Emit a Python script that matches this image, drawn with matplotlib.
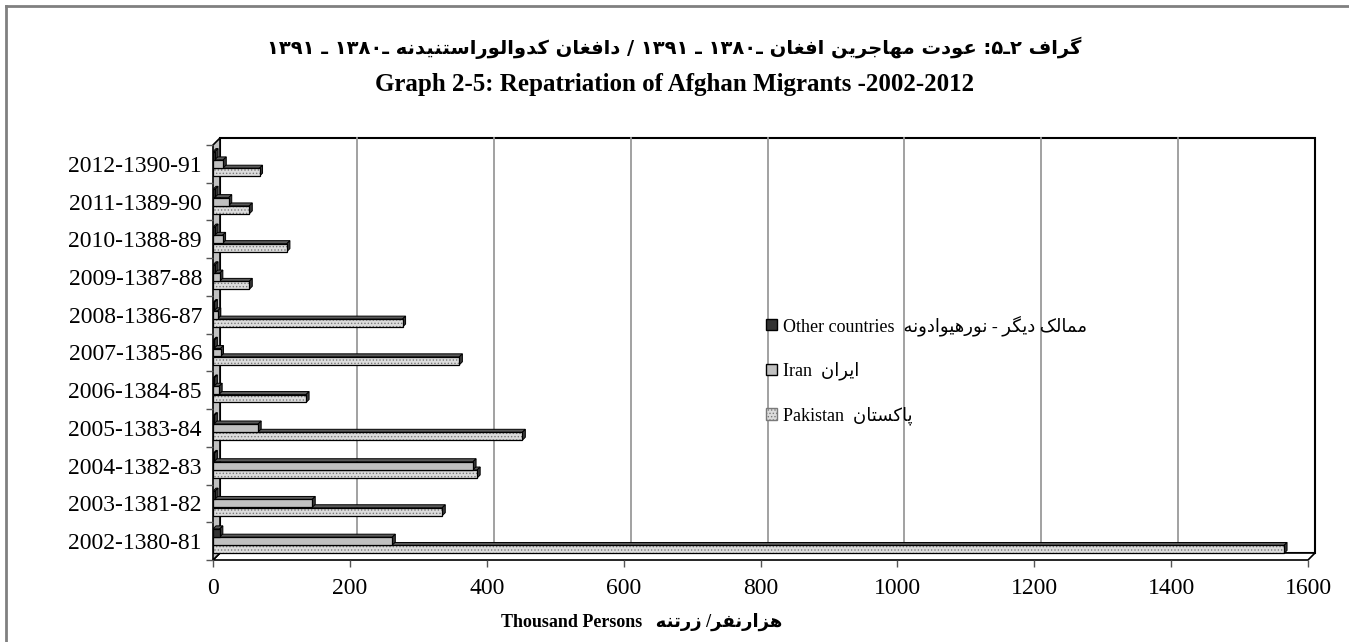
import re
import matplotlib
matplotlib.use("Agg")
import matplotlib.pyplot as plt
from matplotlib.patches import Polygon, Patch
from matplotlib.lines import Line2D
import numpy as np

# data (thousand persons)
years = ["2002-1380-81", "2003-1381-82", "2004-1382-83", "2005-1383-84",
         "2006-1384-85", "2007-1385-86", "2008-1386-87", "2009-1387-88",
         "2010-1388-89", "2011-1389-90", "2012-1390-91"]
pakistan = [1565, 335, 386, 452, 136, 360, 277, 53, 108, 53, 68]
iran = [262, 145, 380, 66, 9, 11, 7, 10, 14, 23, 15]
other = [10, 3, 2, 2, 2, 2, 2, 3, 3, 3, 3]
x_ticks = [0, 200, 400, 600, 800, 1000, 1200, 1400, 1600]

title_fa = "گراف ۲ـ۵: عودت مهاجرین افغان ـ۱۳۸۰ ـ ۱۳۹۱ / دافغان کدوالوراستنیدنه ـ۱۳۸۰ ـ ۱۳۹۱"
title_en = "Graph 2-5: Repatriation of Afghan Migrants -2002-2012"
xlabel_en = "Thousand Persons"
xlabel_fa = "هزارنفر/ زرتنه"
legend_en = ["Other countries", "Iran", "Pakistan"]
legend_fa = ["ممالک دیگر - نورهیوادونه", "ایران", "پاکستان"]

# arabic presentation forms: isolated, final, initial, medial
FORMS = {
    "ا": "\ufe8d\ufe8e", "د": "\ufea9\ufeaa", "ر": "\ufead\ufeae",
    "ز": "\ufeaf\ufeb0", "و": "\ufeed\ufeee",
    "ب": "\ufe8f\ufe90\ufe91\ufe92", "پ": "\ufb56\ufb57\ufb58\ufb59",
    "ت": "\ufe95\ufe96\ufe97\ufe98", "ج": "\ufe9d\ufe9e\ufe9f\ufea0",
    "س": "\ufeb1\ufeb2\ufeb3\ufeb4", "ع": "\ufec9\ufeca\ufecb\ufecc",
    "غ": "\ufecd\ufece\ufecf\ufed0", "ف": "\ufed1\ufed2\ufed3\ufed4",
    "ک": "\ufb8e\ufb8f\ufb90\ufb91", "گ": "\ufb92\ufb93\ufb94\ufb95",
    "ل": "\ufedd\ufede\ufedf\ufee0", "م": "\ufee1\ufee2\ufee3\ufee4",
    "ن": "\ufee5\ufee6\ufee7\ufee8", "ه": "\ufee9\ufeea\ufeeb\ufeec",
    "ی": "\ufbfc\ufbfd\ufbfe\ufbff", "ـ": "\u0640" * 4,
}


def fa(text):
    # join letters, then put them in visual (left to right) order
    out = []
    for k, ch in enumerate(text):
        forms = FORMS.get(ch)
        if forms is None:
            out.append(ch)
            continue
        prev = FORMS.get(text[k - 1], "") if k > 0 else ""
        nxt = text[k + 1] if k + 1 < len(text) else ""
        jp = len(prev) == 4
        jn = len(forms) == 4 and nxt in FORMS
        out.append(forms[{(0, 0): 0, (1, 0): 1, (0, 1): 2, (1, 1): 3}[(int(jp), int(jn))]])
    runs = re.findall(r"[0-9\u06f0-\u06f9]+|.", "".join(out))
    return "".join(reversed(runs))


W, H = 1349, 642
plt.rcParams["hatch.linewidth"] = 0.6
fig = plt.figure(figsize=(W / 100, H / 100), dpi=100)
fig.patch.set_facecolor("white")

# axes = front plane of the 3d plot
L, R, T, B = 213, 1308, 145, 560
ax = fig.add_axes([L / W, (H - B) / H, (R - L) / W, (B - T) / H])
ax.set_xlim(0, 1600)
ax.set_ylim(-0.5, 10.5)
for s in ax.spines.values():
    s.set_visible(False)
ax.patch.set_alpha(0)

sx = 1600 / (R - L)
sy = 11 / (B - T)
DX, DY = 7 * sx, 7 * sy      # wall depth
bdx, bdy = 3 * sx, 3 * sy    # bar depth

# back wall, left wall, floor
ax.add_patch(Polygon([(DX, -0.5 + DY), (1600 + DX, -0.5 + DY), (1600 + DX, 10.5 + DY), (DX, 10.5 + DY)],
                     closed=True, facecolor="white", edgecolor="black", lw=1.5, zorder=0.5, clip_on=False))
for v in x_ticks[1:-1]:
    ax.plot([v + DX, v + DX], [-0.5 + DY, 10.5 + DY], color="#9a9a9a", lw=1.3, zorder=0.8, clip_on=False)
    ax.plot([v, v + DX], [-0.5, -0.5 + DY], color="#9a9a9a", lw=1.0, zorder=0.8, clip_on=False)
ax.add_patch(Polygon([(0, -0.5), (1600, -0.5), (1600 + DX, -0.5 + DY), (DX, -0.5 + DY)],
                     closed=True, facecolor="white", edgecolor="black", lw=1.2, zorder=1, clip_on=False))
ax.add_patch(Polygon([(0, -0.5), (DX, -0.5 + DY), (DX, 10.5 + DY), (0, 10.5)],
                     closed=True, facecolor="#c0c0c0", edgecolor="black", lw=1.2, zorder=1.5, clip_on=False))

y = np.arange(len(years))
h = 0.21
series = [
    (pakistan, -0.22, "#dcdcdc", "....."),
    (iran, 0.0, "#c0c0c0", None),
    (other, 0.22, "#333333", None),
]
for k, (vals, off, col, hatch) in enumerate(series):
    z = 3 + k
    yc = y + off
    for yy, v in zip(yc, vals):
        y0, y1 = yy - h / 2, yy + h / 2
        ax.add_patch(Polygon([(0, y1), (v, y1), (v + bdx, y1 + bdy), (bdx, y1 + bdy)], closed=True,
                             facecolor="#5a5a5a", edgecolor="black", lw=0.7, zorder=z - 0.2))
        ax.add_patch(Polygon([(v, y0), (v + bdx, y0 + bdy), (v + bdx, y1 + bdy), (v, y1)], closed=True,
                             facecolor="#3a3a3a", edgecolor="black", lw=0.7, zorder=z - 0.2))
    if hatch:
        ax.barh(yc, vals, height=h, color=col, edgecolor="#7a7a7a", lw=0, hatch=hatch, zorder=z)
        ax.barh(yc, vals, height=h, fill=False, edgecolor="black", lw=0.9, zorder=z + 0.1)
    else:
        ax.barh(yc, vals, height=h, color=col, edgecolor="black", lw=0.9, zorder=z)

# ticks
ax.set_xticks(x_ticks)
ax.set_xticklabels([str(v) for v in x_ticks], family="Liberation Serif", fontsize=17)
ax.tick_params(axis="x", length=5, width=1, color="#555555", pad=8)
ax.set_yticks(np.arange(-0.5, 11, 1))
ax.set_yticklabels([])
ax.tick_params(axis="y", which="major", length=5, width=1, color="#555555")
ax.set_yticks(y, minor=True)
ax.set_yticklabels(years, minor=True, family="Liberation Serif", fontsize=17)
ax.tick_params(axis="y", which="minor", length=0, pad=8)

# titles
fig.text(0.5, 1 - 48 / H, fa(title_fa), ha="center", va="center",
         family="DejaVu Sans", weight="bold", fontsize=14)
fig.text(0.5, 1 - 85 / H, title_en, ha="center", va="center",
         family="Liberation Serif", weight="bold", fontsize=18)
fig.text(642 / W, 1 - 622 / H, xlabel_en + "   " + fa(xlabel_fa), ha="center", va="center",
         family=["Liberation Serif", "DejaVu Sans"], weight="bold", fontsize=13)

# legend
handles = [Patch(facecolor="#333333", edgecolor="black"),
           Patch(facecolor="#c0c0c0", edgecolor="black"),
           Patch(facecolor="#dcdcdc", edgecolor="#7a7a7a", hatch=".....")]
labels = [f"{en}  {fa(ar)}" for en, ar in zip(legend_en, legend_fa)]
fig.legend(handles, labels, loc="center left", bbox_to_anchor=(766 / W, 1 - 370 / H),
           frameon=False, borderpad=0, borderaxespad=0, labelspacing=1.45,
           handlelength=0.62, handleheight=0.62, handletextpad=0.3,
           prop={"family": ["Liberation Serif", "DejaVu Sans"], "size": 13})

# outer border (top and left only)
fig.add_artist(Line2D([6 / W, 6 / W], [0, 1 - 6 / H], color="#808080", lw=2))
fig.add_artist(Line2D([6 / W, 1], [1 - 6 / H, 1 - 6 / H], color="#808080", lw=2))

fig.savefig("out.png", dpi=100)
